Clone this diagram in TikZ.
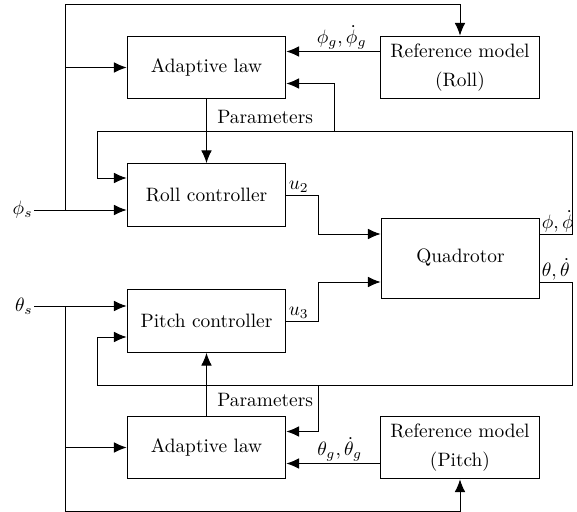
\documentclass[tikz,border=0pt]{standalone}
\usepackage{amsmath}
\usepackage{amssymb}
\usetikzlibrary{arrows.meta}

\begin{document}
\begin{tikzpicture}[
  x=0.5162pt, y=-0.5162pt, line width=0.5pt,  block/.style={draw,rectangle,minimum width=82pt,minimum height=32.5pt,inner sep=2pt},  bigblock/.style={block,minimum height=41.3pt},  sig/.style={inner sep=0.5pt},  lbl/.style={inner sep=1pt},  >={Latex[length=6.5pt,width=5.5pt]}
]
  \useasboundingbox (0,0) rectangle (577,512);
  \node[block] (al1) at (206.5,67.5) {Adaptive law};
  \node[block,align=center] (rm1) at (460,67.5) {Reference model\\[3pt](Roll)};
  \node[block] (rc) at (206.5,195) {Roll controller};
  \node[bigblock] (quad) at (460.5,258) {Quadrotor};
  \node[block] (pc) at (206.5,321) {Pitch controller};
  \node[block] (al2) at (206.5,447.5) {Adaptive law};
  \node[block,align=center] (rm2) at (460,447.5) {Reference model\\[3pt](Pitch)};
  \node[sig,anchor=east] (phis) at (34,210) {$\phi_s$};
  \node[sig,anchor=east] (thetas) at (34,306) {$\theta_s$};
  % roll loop
  \coordinate (rsplit) at (65,210);
  \coordinate (rtop) at (65,4);
  \coordinate (rfb1) at (572,234);
  \coordinate (rfb2) at (572,131);
  \coordinate (rfb3) at (97,131);
  \coordinate (rfb4) at (97,178);
  \coordinate (rpar) at (334,131);
  \coordinate (ru) at (318,195);
  \draw[->] (phis.east) -- (rc.west |- rsplit);
  \draw[->] (rsplit) -- (rtop) -| (rm1.north);
  \draw[->] (rsplit |- al1) -- (al1.west);
  \draw[->] ([yshift=8.26pt]rm1.west) -- node[lbl,above,pos=0.41] {$\phi_g,\dot{\phi}_g$} ([yshift=8.26pt]al1.east);
  \draw[->] (al1.south) -- node[right,xshift=2pt,pos=0.27] {Parameters} (rc.north);
  \draw[->] (quad.east |- rfb1) -- (rfb1) -- (rfb2) -- (rfb3) -- (rfb4) -- (rc.west |- rfb4);
  \draw[->] (rpar) |- ([yshift=-8.26pt]al1.east);
  \draw[->] (rc.east) -- node[lbl,above right,pos=0] {$u_2$} (ru) |- (quad.west |- rfb1);
  \node[sig,above right] (lphi) at (quad.east |- rfb1) {$\phi,\dot{\phi}$};
  % pitch loop
  \coordinate (psplit) at (65,306);
  \coordinate (pbot) at (65,511);
  \coordinate (pfb1) at (572,282);
  \coordinate (pfb2) at (572,385);
  \coordinate (pfb3) at (97,385);
  \coordinate (pfb4) at (97,337);
  \coordinate (ppar) at (318,385);
  \coordinate (pu) at (318,321);
  \draw[->] (thetas.east) -- (pc.west |- psplit);
  \draw[->] (psplit) -- (pbot) -| (rm2.south);
  \draw[->] (psplit |- al2) -- (al2.west);
  \draw[->] ([yshift=-8.26pt]rm2.west) -- node[lbl,above,pos=0.43] {$\theta_g,\dot{\theta}_g$} ([yshift=-8.26pt]al2.east);
  \draw[->] (al2.north) -- node[right,xshift=2pt,pos=0.25] {Parameters} (pc.south);
  \draw[->] (quad.east |- pfb1) -- (pfb1) -- (pfb2) -- (pfb3) -- (pfb4) -- (pc.west |- pfb4);
  \draw[->] (ppar) |- ([yshift=8.26pt]al2.east);
  \draw[->] (pc.east) -- node[lbl,above right,pos=0] {$u_3$} (pu) |- (quad.west |- pfb1);
  \node[sig,above right] (ltheta) at (quad.east |- pfb1) {$\theta,\dot{\theta}$};
\end{tikzpicture}
\end{document}
